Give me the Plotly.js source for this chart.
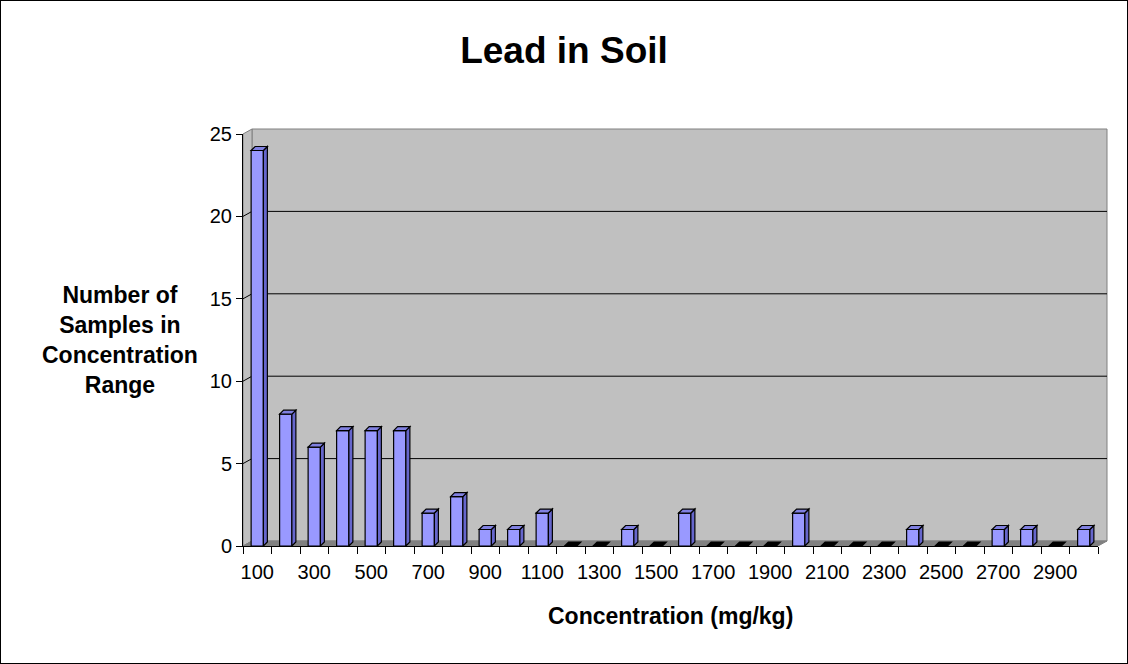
<!DOCTYPE html>
<html>
<head>
<meta charset="utf-8">
<script src="https://cdn.plot.ly/plotly-3.0.1.min.js"></script>
<style>
html,body{margin:0;padding:0;background:#fff;}
#chart{width:1126px;height:662px;border:1px solid #000;}
</style>
</head>
<body>
<div id="chart"></div>
<script>
const concentrations = [100,200,300,400,500,600,700,800,900,1000,
  1100,1200,1300,1400,1500,1600,1700,1800,1900,2000,
  2100,2200,2300,2400,2500,2600,2700,2800,2900,3000];
const counts = [24,8,6,7,7,7,2,3,1,1,
  2,0,0,1,0,2,0,0,0,2,
  0,0,0,1,0,0,1,1,0,1];
const xTickLabels = ["100","300","500","700","900","1100","1300","1500","1700","1900",
  "2100","2300","2500","2700","2900"];
const yTickValues = [0,5,10,15,20,25];

const font = "Liberation Sans, Arial, sans-serif";
const W = 1126, H = 662;
const M = {l: 242, r: 29, t: 133, b: 117};
const pw = W - M.l - M.r, ph = H - M.t - M.b;
const dx = 9 / pw, dy = 5 / ph;   // 3D depth offset of the back wall
const xRange = [50, 3050], yMax = 25;
const bargap = 0.57;
const barW = 100 * (1 - bargap);
// bar depth (4 px) expressed in axis units
const ox = 4 * (xRange[1] - xRange[0]) / pw;
const oy = 4 * yMax / ph;

const trace = {
  type: "bar",
  x: concentrations,
  y: counts,
  marker: {color: "#9999FF", line: {color: "#000000", width: 1.2}},
  hoverinfo: "x+y"
};

const shapes = [
  // back wall
  {type: "rect", xref: "paper", yref: "paper", x0: dx, x1: 1 + dx, y0: dy, y1: 1 + dy,
   fillcolor: "#C0C0C0", line: {color: "#808080", width: 1}, layer: "below"},
  // left wall
  {type: "path", xref: "paper", yref: "paper",
   path: `M 0 0 L ${dx} ${dy} L ${dx} ${1 + dy} L 0 1 Z`,
   fillcolor: "#C0C0C0", line: {color: "#808080", width: 1}, layer: "below"},
  // floor
  {type: "path", xref: "paper", yref: "paper",
   path: `M 0 0 L 1 0 L ${1 + dx} ${dy} L ${dx} ${dy} Z`,
   fillcolor: "#808080", line: {color: "#808080", width: 1}, layer: "below"}
];
// gridlines on left wall and back wall
yTickValues.filter(v => v > 0 && v < yMax).forEach(v => {
  const p = v / yMax;
  shapes.push({type: "path", xref: "paper", yref: "paper",
    path: `M 0 ${p} L ${dx} ${p + dy} L ${1 + dx} ${p + dy}`,
    line: {color: "#000", width: 1}, layer: "below"});
});
// 3D side and top faces of each column, derived from the data
concentrations.forEach((c, i) => {
  const v = counts[i];
  const xl = c - barW / 2, xr = c + barW / 2;
  if (v > 0) {
    shapes.push({type: "path", xref: "x", yref: "y",
      path: `M ${xr} 0 L ${xr + ox} ${oy} L ${xr + ox} ${v + oy} L ${xr} ${v} Z`,
      fillcolor: "#6666CC", line: {color: "#000", width: 1.2}, layer: "above"});
  }
  shapes.push({type: "path", xref: "x", yref: "y",
    path: `M ${xl} ${v} L ${xl + ox} ${v + oy} L ${xr + ox} ${v + oy} L ${xr} ${v} Z`,
    fillcolor: v > 0 ? "#8080E0" : "#000", line: {color: "#000", width: 1.2}, layer: "above"});
});

const layout = {
  width: W, height: H,
  margin: M,
  paper_bgcolor: "#ffffff",
  plot_bgcolor: "rgba(0,0,0,0)",
  font: {family: font, size: 20, color: "#000"},
  showlegend: false,
  bargap: bargap,
  title: {text: "<b>Lead in Soil</b>", font: {family: font, size: 37, color: "#000"},
          x: 0.5, xanchor: "center", y: 1 - 49 / H, yanchor: "middle"},
  xaxis: {
    range: xRange,
    tickmode: "array",
    tickvals: xTickLabels.map(Number),
    ticktext: xTickLabels,
    tickangle: 0,
    ticks: "",
    ticklabelstandoff: 8,
    minor: {ticks: "outside", tick0: 50, dtick: 100, ticklen: 7, tickcolor: "#000", showgrid: false},
    showline: true, linecolor: "#000", linewidth: 1,
    showgrid: false, zeroline: false,
    tickfont: {family: font, size: 20}
  },
  yaxis: {
    range: [0, yMax],
    tickvals: yTickValues,
    ticks: "outside", ticklen: 6, tickcolor: "#000",
    showline: true, linecolor: "#000", linewidth: 1,
    showgrid: false,
    zeroline: false,
    tickfont: {family: font, size: 20}
  },
  annotations: [
    {xref: "paper", yref: "paper",
     x: (119 - M.l) / pw, y: 0.5,
     xanchor: "center", yanchor: "middle",
     showarrow: false, align: "center",
     text: "<b>Number of<br>Samples in<br>Concentration<br>Range</b>",
     font: {family: font, size: 23, color: "#000"}},
    {xref: "paper", yref: "paper",
     x: 0.5, y: -(616 - 546) / ph,
     xanchor: "center", yanchor: "middle",
     showarrow: false,
     text: "<b>Concentration (mg/kg)</b>",
     font: {family: font, size: 23, color: "#000"}}
  ],
  shapes: shapes
};

Plotly.newPlot("chart", [trace], layout, {displayModeBar: false, staticPlot: true});
</script>
</body>
</html>
